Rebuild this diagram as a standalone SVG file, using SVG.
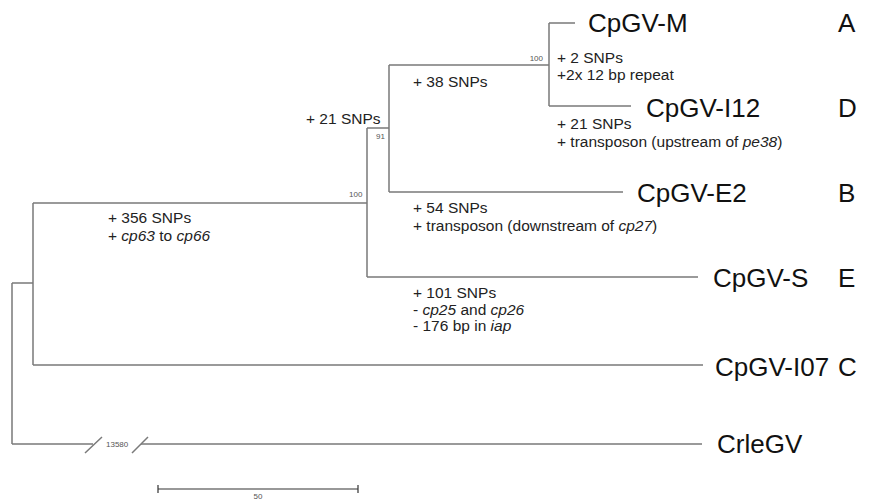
<svg xmlns="http://www.w3.org/2000/svg" width="893" height="501" viewBox="0 0 893 501">
<style>
.br{stroke:#7a7a7a;stroke-width:1.5;fill:none}
.tip{font-family:"Liberation Sans",Arial,sans-serif;font-size:26px;fill:#111}
.lab{font-family:"Liberation Sans",Arial,sans-serif;font-size:15.5px;fill:#222}
.bs{font-family:"Liberation Sans",Arial,sans-serif;font-size:8px;fill:#555}
.i{font-style:italic}
</style>
<rect width="893" height="501" fill="#fff"/>
<g id="connectors">
<path class="br" d="M12,283 V444 M12,283 H33 M33,203 V365 M33,203 H367 M33,365 H703"/>
<path class="br" d="M367,128 V277 M367,128 H389 M367,277 H698"/>
<path class="br" d="M389,65 V192 M389,65 H549 M389,192 H623"/>
<path class="br" d="M549,23 V106 M549,23 H575 M549,106 H631"/>
<path class="br" d="M12,444 H93 M141,444 H702"/>
<path class="br" d="M85,453 L102,437 M132,453 L148,437" stroke-width="1"/>
</g>
<g id="node-root-labels">
<text class="bs" x="106" y="447">13580</text>
</g>
<g id="node-CpGV-M">
<text class="tip" x="588" y="32">CpGV-M</text>
<text class="tip" x="838" y="32">A</text>
<text class="lab" x="557" y="63">+ 2 SNPs</text>
<text class="lab" x="557" y="80">+2x 12 bp repeat</text>
</g>
<g id="node-CpGV-I12">
<text class="tip" x="646" y="117">CpGV-I12</text>
<text class="tip" x="838" y="117">D</text>
<text class="lab" x="557" y="129">+ 21 SNPs</text>
<text class="lab" x="557" y="147">+ transposon (upstream of <tspan class="i">pe38</tspan>)</text>
</g>
<g id="node-CpGV-E2">
<text class="tip" x="637" y="202">CpGV-E2</text>
<text class="tip" x="838" y="202">B</text>
<text class="lab" x="413" y="213">+ 54 SNPs</text>
<text class="lab" x="413" y="231">+ transposon (downstream of <tspan class="i">cp27</tspan>)</text>
</g>
<g id="node-CpGV-S">
<text class="tip" x="713" y="287">CpGV-S</text>
<text class="tip" x="838" y="287">E</text>
<text class="lab" x="413" y="298">+ 101 SNPs</text>
<text class="lab" x="413" y="315">- <tspan class="i">cp25</tspan> and <tspan class="i">cp26</tspan></text>
<text class="lab" x="413" y="331">- 176 bp in <tspan class="i">iap</tspan></text>
</g>
<g id="node-CpGV-I07">
<text class="tip" x="715" y="376">CpGV-I07</text>
<text class="tip" x="838" y="376">C</text>
</g>
<g id="node-CrleGV">
<text class="tip" x="717" y="453">CrleGV</text>
</g>
<g id="node-internal">
<text class="lab" x="413" y="87">+ 38 SNPs</text>
<text class="lab" x="306" y="124">+ 21 SNPs</text>
<text class="lab" x="108" y="223">+ 356 SNPs</text>
<text class="lab" x="108" y="241">+ <tspan class="i">cp63</tspan> to <tspan class="i">cp66</tspan></text>
<text class="bs" x="543" y="61" text-anchor="end">100</text>
<text class="bs" x="376" y="139">91</text>
<text class="bs" x="349" y="197">100</text>
</g>
<g id="scale-bar">
<path d="M158,489 H358 M158,485 V493 M358,485 V493" stroke="#333" stroke-width="1.2" fill="none"/>
<text class="bs" x="258" y="499" text-anchor="middle">50</text>
</g>
</svg>
